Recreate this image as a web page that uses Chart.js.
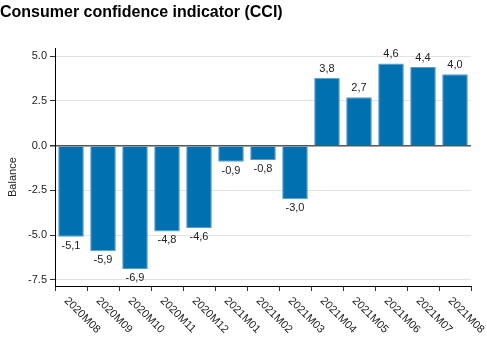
<!DOCTYPE html>
<html>
<head>
<meta charset="utf-8">
<script src="https://cdn.jsdelivr.net/npm/chart.js@4.4.1/dist/chart.umd.min.js"></script>
<style>
  html, body { margin: 0; padding: 0; background: #fff; }
  #wrap { width: 487px; height: 338px; position: relative; }
</style>
</head>
<body>
<div id="wrap"><canvas id="cciChart"></canvas></div>
<script>
// Consumer confidence indicator (CCI) - monthly balance

const months = ['2020M08', '2020M09', '2020M10', '2020M11', '2020M12', '2021M01', '2021M02',
    '2021M03', '2021M04', '2021M05', '2021M06', '2021M07', '2021M08'];
const balance = [-5.1, -5.9, -6.9, -4.8, -4.6, -0.9, -0.8, -3.0, 3.8, 2.7, 4.6, 4.4, 4.0];
const yTicks = [-7.5, -5.0, -2.5, 0.0, 2.5, 5.0];

const FONT = "'Liberation Sans', Arial, sans-serif";
const fmtComma = v => v.toFixed(1).replace('.', ',');

// value labels above / below each bar
const barLabels = {
    id: 'barLabels',
    afterDatasetsDraw(chart) {
        const ctx = chart.ctx;
        const meta = chart.getDatasetMeta(0);
        ctx.save();
        ctx.font = '11px ' + FONT;
        ctx.fillStyle = '#222';
        ctx.textAlign = 'center';
        ctx.textBaseline = 'middle';
        meta.data.forEach((bar, i) => {
            const v = balance[i];
            const y = v >= 0 ? bar.y - 9 : bar.y + 9;
            ctx.fillText(fmtComma(v), bar.x, y);
        });
        ctx.restore();
    }
};

// rotated month labels (clockwise, starting at the tick) + y axis title
const axisText = {
    id: 'axisText',
    afterDraw(chart) {
        const ctx = chart.ctx;
        const xs = chart.scales.x;
        const ys = chart.scales.y;
        ctx.save();
        ctx.font = '11px ' + FONT;
        ctx.fillStyle = '#222';
        ctx.textAlign = 'left';
        ctx.textBaseline = 'middle';
        months.forEach((m, i) => {
            const x = xs.getPixelForValue(i);
            ctx.save();
            ctx.translate(x - 5, xs.top + 13);
            ctx.rotate(Math.PI / 4);
            ctx.fillText(m, 0, 0);
            ctx.restore();
        });
        // "Balance" sits a bit below the middle of the axis
        ctx.save();
        ctx.translate(13, (ys.top + ys.bottom) / 2 + 10);
        ctx.rotate(-Math.PI / 2);
        ctx.textAlign = 'center';
        ctx.fillText('Balance', 0, 0);
        ctx.restore();
        ctx.restore();
    }
};

new Chart(document.getElementById('cciChart'), {
    type: 'bar',
    data: {
        labels: months,
        datasets: [{
            data: balance,
            backgroundColor: '#0070b0',
            borderColor: '#5b9bcc',
            borderWidth: 1,
            barPercentage: 0.8,
            categoryPercentage: 1.0
        }]
    },
    options: {
        responsive: true,
        maintainAspectRatio: false,
        animation: false,
        layout: { padding: { left: 0, right: 16, top: 0, bottom: 0 } },
        plugins: {
            legend: { display: false },
            tooltip: { enabled: false },
            title: {
                display: true,
                text: 'Consumer confidence indicator (CCI)',
                align: 'start',
                color: '#000',
                font: { family: FONT, size: 16, weight: 'bold' },
                padding: { top: 3, bottom: 26 }
            }
        },
        scales: {
            x: {
                grid: { drawOnChartArea: false, drawTicks: true, tickLength: 5, tickColor: '#333' },
                border: { color: '#000', width: 1 },
                ticks: { display: false },
                afterFit: s => { s.height = 52; }
            },
            y: {
                min: -7.85,
                max: 5.45,
                afterBuildTicks: s => { s.ticks = yTicks.map(v => ({ value: v })); },
                grid: {
                    color: c => c.tick && c.tick.value === 0 ? '#555' : '#e3e3e3',
                    lineWidth: c => c.tick && c.tick.value === 0 ? 1.5 : 1,
                    tickColor: '#333',
                    tickLength: 5
                },
                border: { color: '#000', width: 1 },
                ticks: {
                    color: '#222',
                    padding: 3,
                    font: { family: FONT, size: 11 },
                    callback: v => v.toFixed(1)
                },
                afterFit: s => { s.width = 55; }
            }
        }
    },
    plugins: [barLabels, axisText]
});
</script>
</body>
</html>
